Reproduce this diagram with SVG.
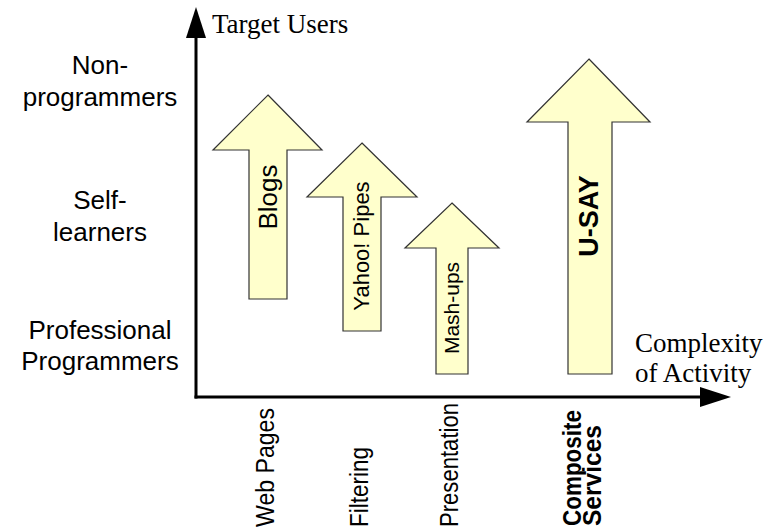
<svg xmlns="http://www.w3.org/2000/svg" width="781" height="528" viewBox="0 0 781 528">
  <defs>
    <marker id="axhead" markerUnits="userSpaceOnUse" markerWidth="32" markerHeight="22" refX="0" refY="10" orient="auto" overflow="visible">
      <path d="M0,0 L31,10 L0,20 Z" fill="#000"/>
    </marker>
    <style>
      .axis { stroke: #000; stroke-width: 3; fill: none; }
      .blk { fill: #FFFFCC; stroke: #333333; stroke-width: 1.2; stroke-linejoin: miter; }
      .serif { font-family: "Liberation Serif", "Times New Roman", serif; font-size: 27px; fill: #000; }
      .lvl { font-family: "Liberation Sans", Arial, sans-serif; font-size: 26px; fill: #000; text-anchor: middle; }
      .inner { font-family: "Liberation Sans", Arial, sans-serif; fill: #000; text-anchor: middle; }
      .cat { font-family: "Liberation Sans Narrow", "Liberation Sans", Arial, sans-serif; font-size: 26px; fill: #000; }
      .bold { font-weight: bold; }
    </style>
  </defs>

  <g id="connectors">
    <line class="axis" x1="196" y1="398.5" x2="196" y2="38" marker-end="url(#axhead)"/>
    <line class="axis" x1="194.5" y1="397" x2="700" y2="397" marker-end="url(#axhead)"/>
  </g>

  <g id="axis-labels">
    <text class="serif" x="212" y="33">Target Users</text>
    <text class="serif" x="635" y="352">Complexity</text>
    <text class="serif" x="635" y="382">of Activity</text>
  </g>

  <g id="level-non-programmers">
    <text class="lvl" x="100" y="74">Non-</text>
    <text class="lvl" x="100" y="106">programmers</text>
  </g>
  <g id="level-self-learners">
    <text class="lvl" x="100" y="209">Self-</text>
    <text class="lvl" x="100" y="241">learners</text>
  </g>
  <g id="level-professional">
    <text class="lvl" x="100" y="339">Professional</text>
    <text class="lvl" x="100" y="370">Programmers</text>
  </g>

  <g id="node-blogs">
    <polygon class="blk" points="268,95 322,150 287,150 287,299 249,299 249,150 213,150"/>
    <text class="inner" font-size="26" transform="translate(277,197) rotate(-90)">Blogs</text>
  </g>
  <g id="node-yahoo-pipes">
    <polygon class="blk" points="362,143 417,197 381,197 381,331 343,331 343,197 307,197"/>
    <text class="inner" font-size="22" transform="translate(369,246) rotate(-90)">Yahoo! Pipes</text>
  </g>
  <g id="node-mashups">
    <polygon class="blk" points="452,203 499,248 468,248 468,374 436,374 436,248 405,248"/>
    <text class="inner" font-size="21" transform="translate(459,308) rotate(-90)">Mash-ups</text>
  </g>
  <g id="node-usay">
    <polygon class="blk" points="589,59 650,122 612,122 612,374 568,374 568,122 527,122"/>
    <text class="inner bold" font-size="27" transform="translate(598,216) rotate(-90)">U-SAY</text>
  </g>

  <g id="cat-web-pages">
    <text class="cat" transform="translate(274,527) rotate(-90)" textLength="119" lengthAdjust="spacingAndGlyphs">Web Pages</text>
  </g>
  <g id="cat-filtering">
    <text class="cat" transform="translate(368,527) rotate(-90)" textLength="80" lengthAdjust="spacingAndGlyphs">Filtering</text>
  </g>
  <g id="cat-presentation">
    <text class="cat" transform="translate(458,527) rotate(-90)" textLength="124" lengthAdjust="spacingAndGlyphs">Presentation</text>
  </g>
  <g id="cat-composite-services">
    <text class="cat bold" transform="translate(581,526) rotate(-90)" textLength="116" lengthAdjust="spacingAndGlyphs">Composite</text>
    <text class="cat bold" transform="translate(601,526) rotate(-90)" textLength="101" lengthAdjust="spacingAndGlyphs">Services</text>
  </g>
</svg>
